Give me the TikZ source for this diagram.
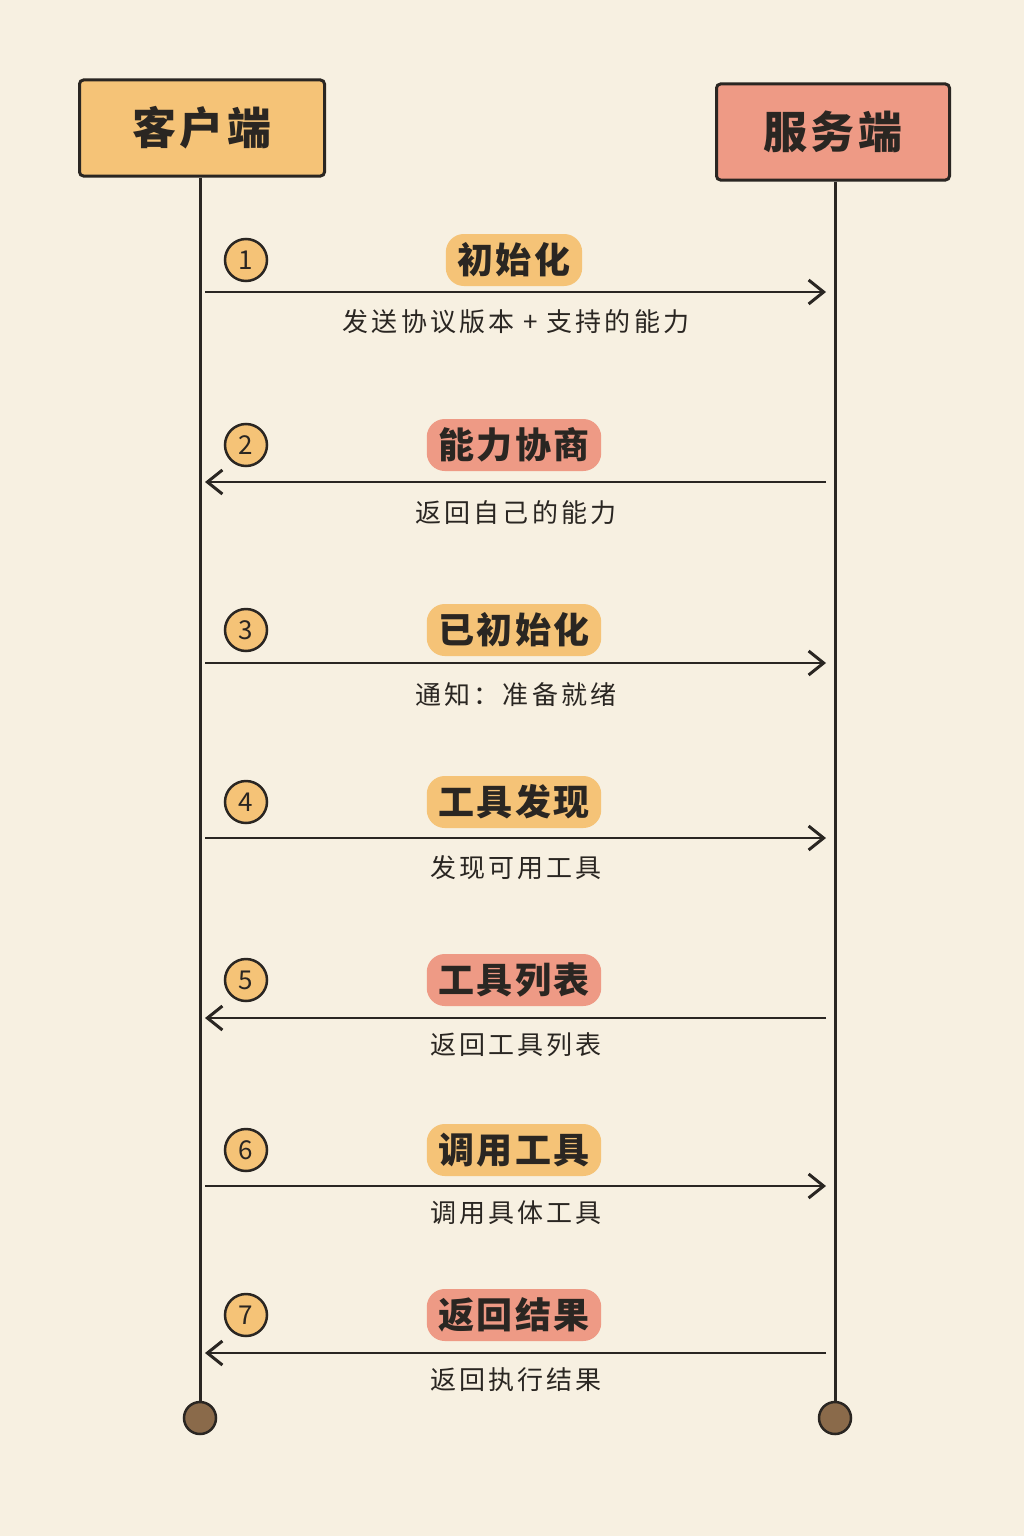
\documentclass[tikz,border=0pt]{standalone}
\usepackage{fontspec}
\setmainfont{Noto Sans CJK SC}
\usetikzlibrary{arrows.meta,patterns}
\definecolor{bg}{HTML}{F7F0E1}
\definecolor{ink}{HTML}{2A2622}
\definecolor{orng}{HTML}{F5C377}
\definecolor{redd}{HTML}{EE9A85}
\definecolor{brn}{HTML}{8A6A4A}
\tikzset{
 head/.style={draw=ink,line width=3pt,rounded corners=4pt,minimum width=#1,minimum height=96pt,font=\fontsize{44}{48}\selectfont\bfseries\addfontfeature{LetterSpace=8},text=ink},
 pill/.style={fill=#1,rounded corners=18pt,inner xsep=12pt,minimum height=52pt,font=\fontsize{36}{40}\selectfont\bfseries\addfontfeature{LetterSpace=6},text=ink},
 sub/.style={font=\fontsize{26}{30}\selectfont\addfontfeature{LetterSpace=12},text=ink},
 num/.style={circle,draw=ink,line width=2.5pt,fill=orng,minimum size=42pt,inner sep=0pt,font=\fontsize{26}{28}\selectfont,text=ink},
 msg/.style={draw=ink,line width=2.8pt,-{Straight Barb[length=15pt,width=24pt,line width=3pt]}},
 life/.style={draw=ink,line width=3pt},
 endc/.style={circle,draw=ink,line width=2.5pt,fill=brn,minimum size=32pt,inner sep=0pt}
}
\begin{document}
\begin{tikzpicture}[x=1pt,y=-1pt]
\fill[bg] (0,0) rectangle (1024,1536);
\useasboundingbox (0,0) rectangle (1024,1536);
\node[head=245pt,fill=orng] (c) at (202,128) {客户端};
\node[head=233pt,fill=redd] (s) at (833,132) {服务端};
\node[endc] (ce) at (200,1418) {};
\node[endc] (se) at (835,1418) {};
\draw[life] (c.south -| ce) -- (ce.north);
\draw[life] (s.south -| se) -- (se.north);
\foreach \i/\ny/\t/\c/\ay/\dir/\st/\sy in {
 1/260/初始化/orng/292/r/发送协议版本 + 支持的能力/322,
 2/445/能力协商/redd/482/l/返回自己的能力/513,
 3/630/已初始化/orng/663/r/通知：准备就绪/695,
 4/802/工具发现/orng/838/r/发现可用工具/868,
 5/980/工具列表/redd/1018/l/返回工具列表/1045,
 6/1150/调用工具/orng/1186/r/调用具体工具/1213,
 7/1315/返回结果/redd/1353/l/返回执行结果/1380}{
 \node[num] (n\i) at (246,\ny) {\i};
 \node[pill=\c] (p\i) at (514,\ny) {\t};
 \node[sub] (t\i) at (516,\sy) {\st};
 \coordinate (a\i) at (205,\ay);
 \coordinate (b\i) at (826,\ay);
 \if r\dir \draw[msg] (a\i) -- (b\i); \else \draw[msg] (b\i) -- (a\i); \fi
}
\end{tikzpicture}
\end{document}
